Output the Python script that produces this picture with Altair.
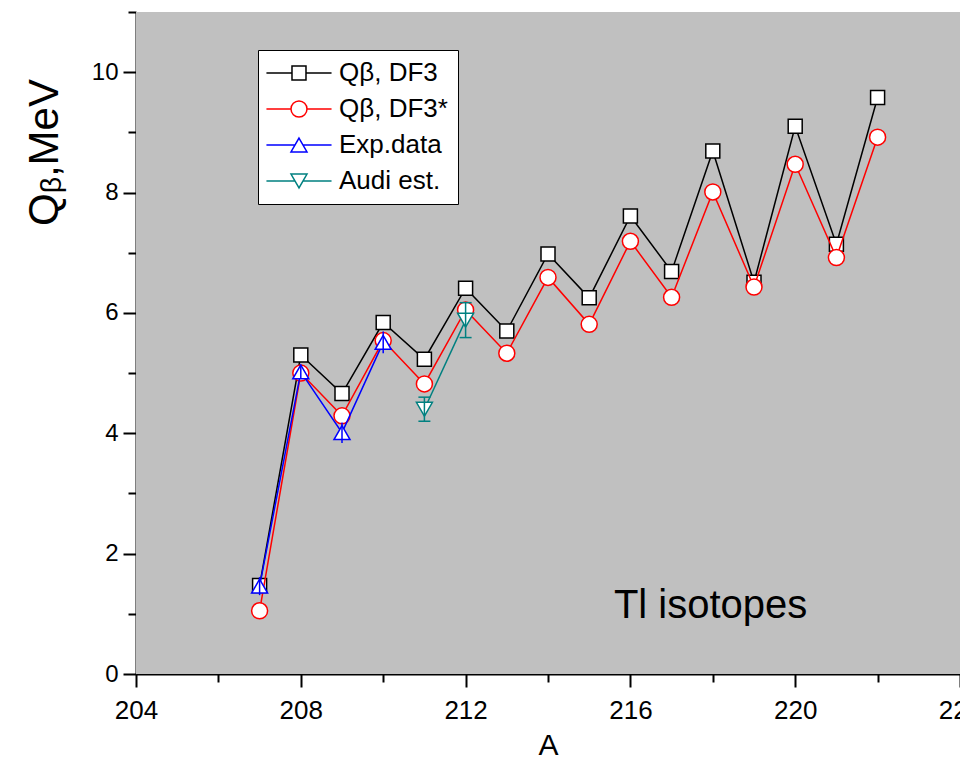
import altair as alt
import pandas as pd

# ---- data ----
A_theory = list(range(207, 223))
q_df3 = [1.47, 5.30, 4.66, 5.84, 5.23, 6.41, 5.70, 6.98, 6.25, 7.61, 6.69, 8.69, 6.51, 9.10, 7.14, 9.58]
q_df3s = [1.05, 5.00, 4.29, 5.54, 4.82, 6.05, 5.33, 6.59, 5.81, 7.19, 6.26, 8.01, 6.43, 8.47, 6.92, 8.92]
A_exp = [207, 208, 209, 210]
q_exp = [1.46, 5.02, 4.01, 5.51]
err_exp = [0.15, 0.12, 0.17, 0.18]
A_audi = [211, 212]
q_audi = [4.40, 5.88]
err_audi = [0.20, 0.29]

series_names = ["Qβ, DF3", "Qβ, DF3*", "Exp.data", "Audi est."]
series_colors = ["#000000", "#FF0000", "#0000FF", "#008080"]
series_shapes = ["square", "circle", "triangle-up", "triangle-down"]

x_domain = [204, 224]
y_domain = [0, 11]
x_major = [204, 208, 212, 216, 220, 224]
x_minor = [206, 210, 214, 218, 222]
y_major = [0, 2, 4, 6, 8, 10]
y_minor = [1, 3, 5, 7, 9, 11]

note_text = ["Tl isotopes"]
note_x = [215.6]
note_y = [0.93]

FONT = "Liberation Sans"
PLOT_BG = "#C0C0C0"


def frame(a, q, e=None):
    df = pd.DataFrame({"A": a, "Q": q})
    df["err"] = e if e is not None else 0.0
    df["lo"] = df["Q"] - df["err"]
    df["hi"] = df["Q"] + df["err"]
    return df


frames = [frame(A_theory, q_df3), frame(A_theory, q_df3s),
          frame(A_exp, q_exp, err_exp), frame(A_audi, q_audi, err_audi)]

xscale = alt.Scale(domain=x_domain, nice=False, zero=False)
yscale = alt.Scale(domain=y_domain, nice=False, zero=False)

x_major_axis = alt.Axis(values=x_major, orient="bottom", format="d", tickSize=13, tickWidth=2,
                        domainWidth=2, domainColor="black", tickColor="black",
                        labelFont=FONT, labelFontSize=26, labelColor="black", labelPadding=10,
                        grid=False, title="A", titleFont=FONT, titleFontSize=30,
                        titleFontWeight="normal", titleColor="black",
                        titleBaseline="alphabetic", titleY=80, labelFlush=False)
x_minor_axis = alt.Axis(values=x_minor, orient="bottom", tickSize=8, tickWidth=2, tickColor="black",
                        labels=False, domain=False, grid=False, title=None)
y_major_axis = alt.Axis(values=y_major, orient="left", format="d", tickSize=13, tickWidth=2,
                        domainWidth=2, domainColor="black", tickColor="black",
                        labelFont=FONT, labelFontSize=24, labelColor="black", labelPadding=5,
                        grid=False, title="Qᵦ,MeV", titleFont=FONT, titleFontSize=42,
                        titleFontWeight="normal", titleColor="black", titleAngle=270,
                        titleAlign="center", titleBaseline="alphabetic",
                        titleX=-79, titleY=140, labelFlush=False)
y_minor_axis = alt.Axis(values=y_minor, orient="left", tickSize=8, tickWidth=2, tickColor="black",
                        labels=False, domain=False, grid=False, title=None)

layers = []

# plot-area background spanning the axis domains
bg_df = pd.DataFrame({"x0": [x_domain[0]], "x1": [x_domain[1]],
                      "y0": [y_domain[0]], "y1": [y_domain[1]]})
bg = alt.Chart(bg_df).mark_rect(color=PLOT_BG, opacity=1).encode(
    x=alt.X("x0:Q", scale=xscale, axis=None),
    x2="x1:Q",
    y=alt.Y("y0:Q", scale=yscale, axis=None),
    y2="y1:Q",
)
layers.append(bg)

marker_sizes = [196, 256, 256, 256]
for i, df in enumerate(frames):
    col = series_colors[i]
    xa = x_major_axis if i == 0 else None
    ya = y_major_axis if i == 0 else None
    line = alt.Chart(df).mark_line(color=col, strokeWidth=1.5).encode(
        x=alt.X("A:Q", scale=xscale, axis=xa),
        y=alt.Y("Q:Q", scale=yscale, axis=ya),
    )
    layers.append(line)
    xa2 = x_minor_axis if i == 0 else None
    ya2 = y_minor_axis if i == 0 else None
    pts = alt.Chart(df).mark_point(shape=series_shapes[i], size=marker_sizes[i], filled=True,
                                   fill="white", stroke=col, strokeWidth=1.5, opacity=1).encode(
        x=alt.X("A:Q", scale=xscale, axis=xa2),
        y=alt.Y("Q:Q", scale=yscale, axis=ya2),
    )
    layers.append(pts)
    if i >= 2:
        rule = alt.Chart(df).mark_rule(color=col, strokeWidth=1.5).encode(
            x=alt.X("A:Q", scale=xscale, axis=None),
            y=alt.Y("lo:Q", scale=yscale, axis=None),
            y2="hi:Q",
        )
        layers.append(rule)
    if i == 3:
        for fld in ["lo", "hi"]:
            cap = alt.Chart(df).mark_tick(orient="horizontal", size=12, thickness=1.5,
                                          color=col, opacity=1).encode(
                x=alt.X("A:Q", scale=xscale, axis=None),
                y=alt.Y(f"{fld}:Q", scale=yscale, axis=None),
            )
            layers.append(cap)

note_df = pd.DataFrame({"A": note_x, "Q": note_y, "t": note_text})
note = alt.Chart(note_df).mark_text(align="left", baseline="alphabetic", font=FONT,
                                    fontSize=40, color="black").encode(
    x=alt.X("A:Q", scale=xscale, axis=None),
    y=alt.Y("Q:Q", scale=yscale, axis=None),
    text="t:N",
)
layers.append(note)

# legend symbols: line stub + marker (custom paths)
dx = 2.57
L = 4.65


def f(v):
    return f"{v:.3f}"


r = 1.143
paths = [
    f"M{f(dx-L)},0H{f(dx-1)}M{f(dx+1)},0H{f(dx+L)}M{f(dx-1)},-1H{f(dx+1)}V1H{f(dx-1)}Z",
    f"M{f(dx-L)},0H{f(dx-r)}M{f(dx+r)},0H{f(dx+L)}M{f(dx-r)},0A{r},{r} 0 1 1 {f(dx+r)},0A{r},{r} 0 1 1 {f(dx-r)},0Z",
    f"M{f(dx-L)},0H{f(dx-0.57)}M{f(dx+0.57)},0H{f(dx+L)}M{f(dx)},-0.99L{f(dx+r)},0.99L{f(dx-r)},0.99Z",
    f"M{f(dx-L)},0H{f(dx-0.57)}M{f(dx+0.57)},0H{f(dx+L)}M{f(dx)},0.99L{f(dx-r)},-0.99L{f(dx+r)},-0.99Z",
]

leg = alt.Legend(orient="none", legendX=122, legendY=38, title=None, fillColor="white",
                 strokeColor="black", padding=10, labelFont=FONT, labelFontSize=26,
                 labelColor="black", labelOffset=45, symbolSize=196, symbolStrokeWidth=1.5,
                 symbolFillColor="white", rowPadding=10, labelLimit=300, cornerRadius=0)

legend_df = pd.DataFrame({"series": series_names})
legend_layer = alt.Chart(legend_df).mark_point(filled=False, fill="white", strokeWidth=1.5,
                                               opacity=1, size=196).encode(
    stroke=alt.Stroke("series:N", scale=alt.Scale(domain=series_names, range=series_colors),
                      legend=leg, sort=series_names),
    shape=alt.Shape("series:N", scale=alt.Scale(domain=series_names, range=paths),
                    legend=leg, sort=series_names),
).transform_filter("false")
layers.append(legend_layer)

chart = alt.layer(*layers).resolve_axis(x="independent", y="independent").properties(
    width=824, height=662,
    autosize=alt.AutoSizeParams(type="none"),
    padding={"left": 128, "top": 4, "right": 0, "bottom": 88},
    background="white",
).configure_view(stroke=None)

chart.save("out.html", embed_options={"renderer": "svg", "actions": False})
